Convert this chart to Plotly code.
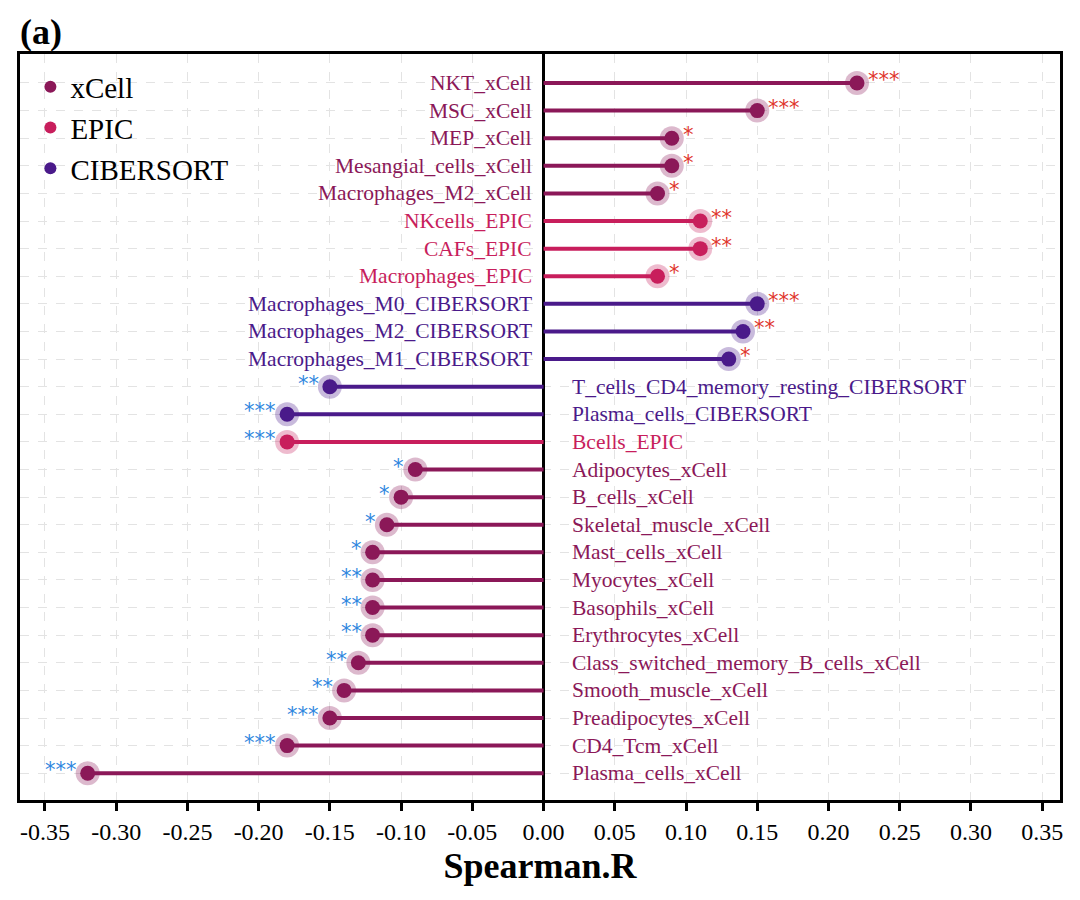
import plotly.graph_objects as go

cells = ["NKT_xCell","MSC_xCell","MEP_xCell","Mesangial_cells_xCell","Macrophages_M2_xCell",
         "NKcells_EPIC","CAFs_EPIC","Macrophages_EPIC",
         "Macrophages_M0_CIBERSORT","Macrophages_M2_CIBERSORT","Macrophages_M1_CIBERSORT",
         "T_cells_CD4_memory_resting_CIBERSORT","Plasma_cells_CIBERSORT","Bcells_EPIC",
         "Adipocytes_xCell","B_cells_xCell","Skeletal_muscle_xCell","Mast_cells_xCell",
         "Myocytes_xCell","Basophils_xCell","Erythrocytes_xCell",
         "Class_switched_memory_B_cells_xCell","Smooth_muscle_xCell","Preadipocytes_xCell",
         "CD4_Tcm_xCell","Plasma_cells_xCell"]
rvals = [0.22,0.15,0.09,0.09,0.08,0.11,0.11,0.08,0.15,0.14,0.13,
         -0.15,-0.18,-0.18,-0.09,-0.10,-0.11,-0.12,-0.12,-0.12,-0.12,-0.13,-0.14,-0.15,-0.18,-0.32]
stars = ["***","***","*","*","*","**","**","*","***","**","*",
         "**","***","***","*","*","*","*","**","**","**","**","**","***","***","***"]
methods = ["xCell"]*5+["EPIC"]*3+["CIBERSORT"]*3+["CIBERSORT","CIBERSORT","EPIC"]+["xCell"]*12
xticks = [-0.35,-0.30,-0.25,-0.20,-0.15,-0.10,-0.05,0.0,0.05,0.10,0.15,0.20,0.25,0.30,0.35]

colors = {"xCell":"#8B1858","EPIC":"#C81E5C","CIBERSORT":"#4A1A8A"}
halo = {"xCell":"rgba(139,24,88,0.3)","EPIC":"rgba(200,30,92,0.3)","CIBERSORT":"rgba(74,26,138,0.3)"}
FONT = "Liberation Serif"

fig = go.Figure()
for i,(c,v,m) in enumerate(zip(cells,rvals,methods)):
    fig.add_trace(go.Scatter(x=[0,v],y=[i,i],mode="lines",line=dict(color=colors[m],width=4),
                             showlegend=False,hoverinfo="skip"))
for i,(v,m) in enumerate(zip(rvals,methods)):
    fig.add_trace(go.Scatter(x=[v],y=[i],mode="markers",marker=dict(size=24,color=halo[m]),
                             showlegend=False))
    fig.add_trace(go.Scatter(x=[v],y=[i],mode="markers",marker=dict(size=15,color=colors[m]),
                             showlegend=False))
for m in ["xCell","EPIC","CIBERSORT"]:
    fig.add_trace(go.Scatter(x=[None],y=[None],mode="markers",name=m,
                             marker=dict(size=17,color=colors[m])))

ann = []
for i,(c,v,s,m) in enumerate(zip(cells,rvals,stars,methods)):
    pos = v > 0
    ann.append(dict(x=0,y=i,text=c,showarrow=False,xanchor="right" if pos else "left",
                    xshift=-10 if pos else 26,font=dict(family=FONT,size=21.5,color=colors[m])))
    ann.append(dict(x=v,y=i,text=s,showarrow=False,xanchor="left" if pos else "right",
                    xshift=9 if pos else -9,yshift=3,
                    font=dict(family="DejaVu Sans",size=21,color="#E0352B" if pos else "#2E86DE")))
ann.append(dict(x=0,y=1,xref="paper",yref="paper",xanchor="left",yanchor="bottom",yshift=0,xshift=-2,
                text="<b>(a)</b>",showarrow=False,font=dict(family=FONT,size=36,color="black")))

fig.update_layout(
    width=1080,height=900,plot_bgcolor="white",paper_bgcolor="white",
    margin=dict(l=12,r=28,t=46,b=108),annotations=ann,
    legend=dict(x=0.01,y=0.99,xanchor="left",yanchor="top",bgcolor="rgba(0,0,0,0)",
                font=dict(family=FONT,size=29,color="black"),itemsizing="constant",tracegroupgap=2),
    xaxis=dict(range=[-0.3675,0.3625],tickvals=xticks,ticktext=[f"{t:.2f}" for t in xticks],
               showgrid=True,gridcolor="#e3e3e3",griddash="dash",zeroline=True,zerolinecolor="black",
               zerolinewidth=3,showline=True,linecolor="black",linewidth=3,mirror=True,
               ticks="outside",ticklen=8,tickwidth=3,tickcolor="black",
               tickfont=dict(family=FONT,size=24,color="black"),
               title=dict(text="<b>Spearman.R</b>",font=dict(family=FONT,size=36,color="black"),standoff=10)),
    yaxis=dict(range=[25.97,-1.05],tickvals=list(range(26)),showticklabels=False,
               showgrid=True,gridcolor="#e3e3e3",griddash="dash",zeroline=False,
               showline=True,linecolor="black",linewidth=3,mirror=True,ticks=""),
)
fig.write_html("out.html")
